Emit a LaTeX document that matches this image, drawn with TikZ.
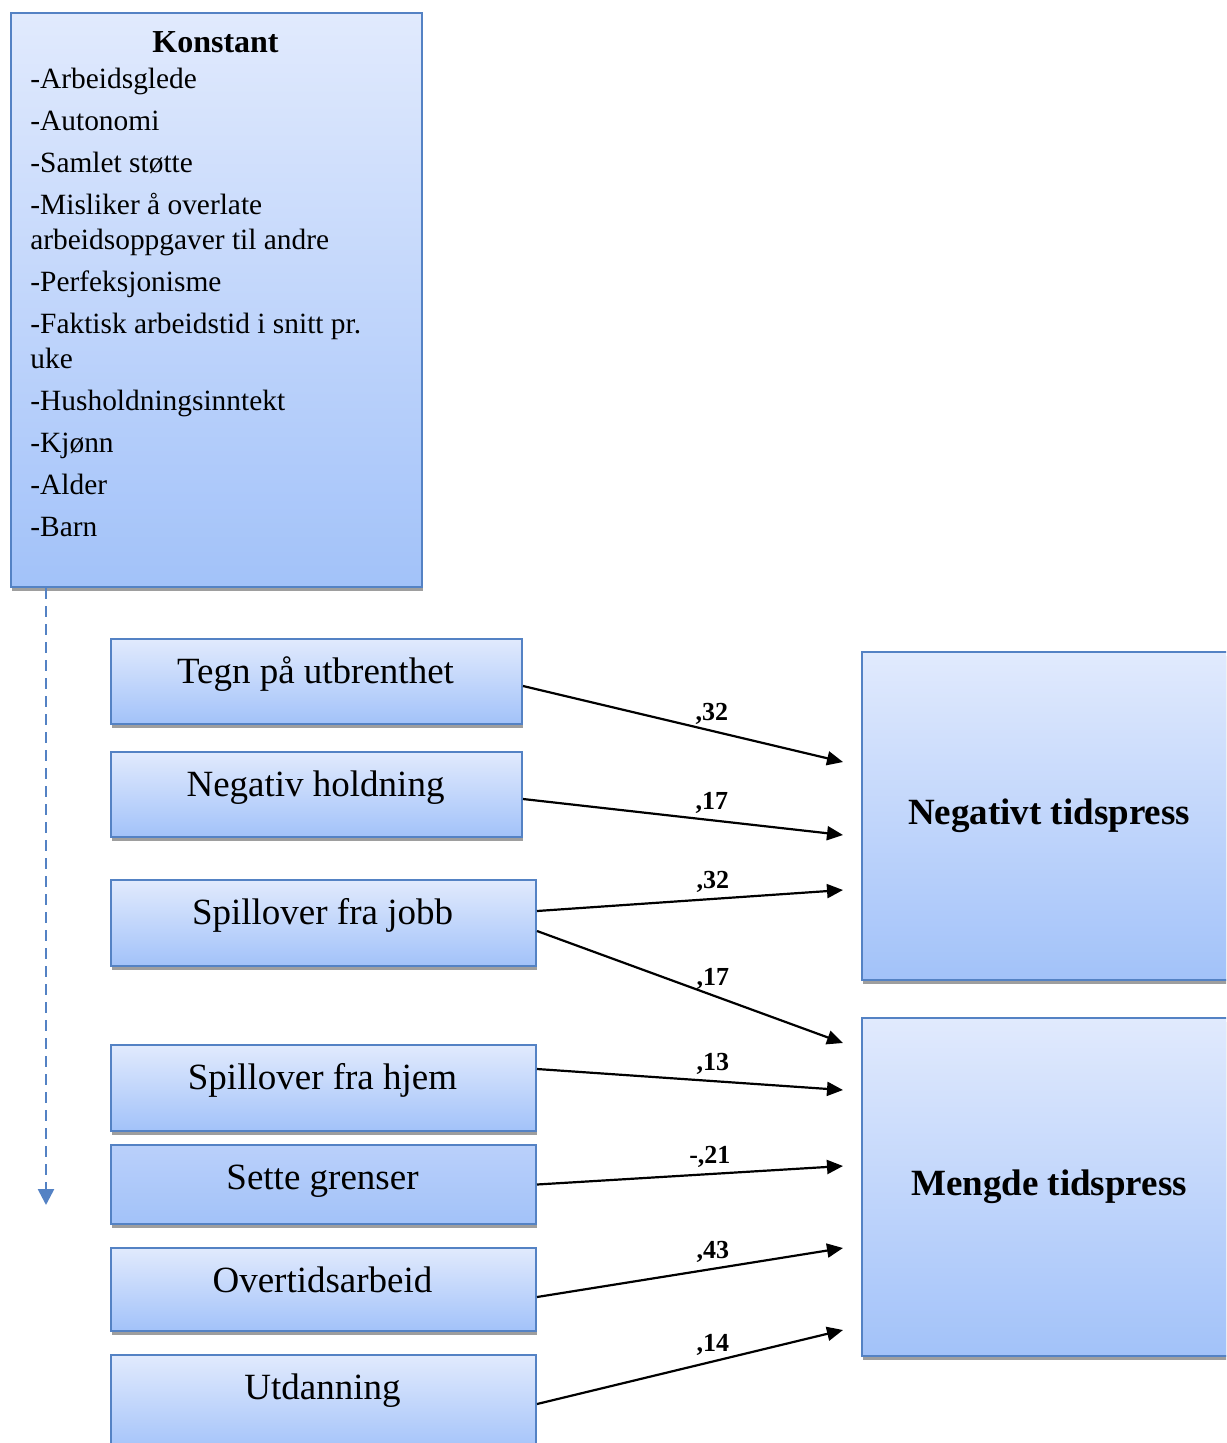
\documentclass[tikz,border=0pt]{standalone}
\usepackage{fontspec}
\setmainfont{Liberation Serif}
\usetikzlibrary{arrows.meta,shadows}
\definecolor{boxline}{RGB}{84,130,196}
\definecolor{boxtop}{RGB}{225,234,253}
\definecolor{boxbot}{RGB}{162,194,249}
\definecolor{settetop}{RGB}{186,208,250}
\tikzset{
  box/.style={draw=boxline, line width=1pt, top color=boxtop, bottom color=boxbot,
    anchor=north west, inner sep=0pt,
    drop shadow={shadow xshift=0.5pt, shadow yshift=-2pt, fill=black!38, opacity=1}},
  smallbox/.style={box, minimum height=42.5pt},
  boxtext/.style={font=\fontsize{18.5}{22}\selectfont, inner sep=0pt, text height=0.7em, text depth=0.22em},
  bigtext/.style={font=\fontsize{18.5}{22}\selectfont\bfseries},
  wt/.style={font=\fontsize{13}{15}\selectfont\bfseries, inner sep=0pt, above=2.6pt},
  pil/.style={line width=1.1pt, -{Triangle[length=8pt,width=7pt]}},
}
\begin{document}
\begin{tikzpicture}[x=0.5pt, y=-0.5pt]
  \clip (0,0) rectangle (1226,1443); % page size in px
  % control variables
  \node[box, minimum width=205.5pt, minimum height=287pt] (konst) at (10,12) {};
  \node[font=\fontsize{16}{19}\selectfont\bfseries, inner sep=0pt] (ktitle) at (215.5,42) {Konstant};
  \node[font=\fontsize{14.7}{17.5}\selectfont, align=left, anchor=north west, inner sep=0pt] (klist) at (30,68)
    {-Arbeidsglede\\[3.5pt]
     -Autonomi\\[3.5pt]
     -Samlet støtte\\[3.5pt]
     -Misliker å overlate\\
     arbeidsoppgaver til andre\\[3.5pt]
     -Perfeksjonisme\\[3.5pt]
     -Faktisk arbeidstid i snitt pr.\\
     uke\\[3.5pt]
     -Husholdningsinntekt\\[3.5pt]
     -Kjønn\\[3.5pt]
     -Alder\\[3.5pt]
     -Barn};

  % predictors
  \node[smallbox, minimum width=205.5pt] (tegn) at (110,638) {};
  \node[boxtext] (tegnt) at (315.5,679) {Tegn på utbrenthet};
  \node[smallbox, minimum width=205.5pt] (negh) at (110,751) {};
  \node[boxtext] (neght) at (315.5,792) {Negativ holdning};
  \node[smallbox, minimum width=212.5pt, minimum height=43pt] (sjobb) at (110,879) {};
  \node[boxtext] (sjobbt) at (322.5,920) {Spillover fra jobb};
  \node[smallbox, minimum width=212.5pt, minimum height=43pt] (shjem) at (110,1044) {};
  \node[boxtext] (shjemt) at (322.5,1085) {Spillover fra hjem};
  \node[smallbox, minimum width=212.5pt, minimum height=39.5pt, top color=settetop] (sette) at (110,1144) {};
  \node[boxtext] (settet) at (322.5,1185) {Sette grenser};
  \node[smallbox, minimum width=212.5pt, minimum height=41.5pt] (overt) at (110,1247) {};
  \node[boxtext] (overtt) at (322.5,1288) {Overtidsarbeid};
  \node[smallbox, minimum width=212.5pt, minimum height=49pt] (utd) at (110,1354) {};
  \node[boxtext] (utdt) at (322.5,1395) {Utdanning};

  % outcomes
  \node[box, bigtext, minimum width=187pt, minimum height=164pt] (negt) at (861,651) {Negativt tidspress};
  \node[box, bigtext, minimum width=187pt, minimum height=169pt] (mengde) at (861,1017) {Mengde tidspress};

  % arrow ends
  \coordinate (e1) at (843,762);
  \coordinate (e2) at (843,835);
  \coordinate (e3) at (843,890);
  \coordinate (e4) at (843,1043);
  \coordinate (e5) at (843,1090);
  \coordinate (e6) at (843,1166);
  \coordinate (e7) at (843,1248);
  \coordinate (e8) at (843,1330);
  \coordinate (dend) at (46,1205);

  \draw[pil] ([yshift=-2.25pt]tegn.east) -- node[wt, pos=0.59] (w1) {,32} (e1);
  \draw[pil] ([yshift=-2.25pt]negh.east) -- node[wt, pos=0.59] (w2) {,17} (e2);
  \draw[pil] ([yshift=6pt]sjobb.east) -- node[wt, pos=0.575] (w3) {,32} (e3);
  \draw[pil] ([yshift=-4pt]sjobb.east) -- node[wt, pos=0.575] (w4) {,17} (e4);
  \draw[pil] ([yshift=9.5pt]shjem.east) -- node[wt, pos=0.575] (w5) {,13} (e5);
  \draw[pil] (sette.east) -- node[wt, pos=0.565] (w6) {-,21} (e6);
  \draw[pil] ([yshift=-3.75pt]overt.east) -- node[wt, pos=0.575] (w7) {,43} (e7);
  \draw[pil] (utd.east) -- node[wt, pos=0.575] (w8) {,14} (e8);

  % control line
  \draw[boxline, line width=1.3pt, dash pattern=on 5.5pt off 3.5pt, -{Triangle[length=8pt,width=8pt]}]
    ([xshift=18pt]konst.south west) -- (dend);
\end{tikzpicture}
\end{document}
